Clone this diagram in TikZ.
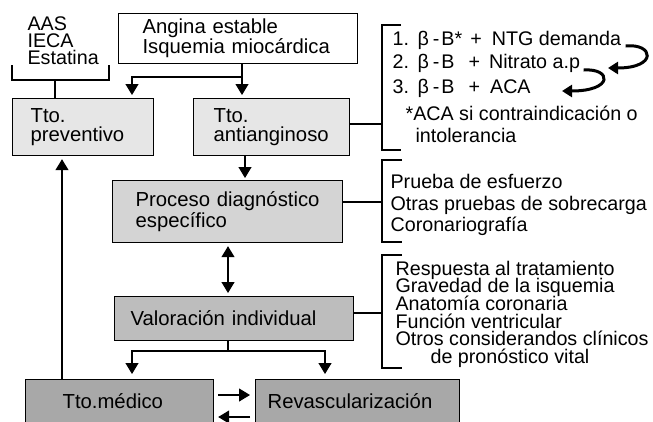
\documentclass[tikz,border=0pt]{standalone}
\usepackage{fontspec}
\setmainfont{Liberation Sans}
\usetikzlibrary{arrows.meta,calc}
\definecolor{gA}{HTML}{E6E6E6}
\definecolor{gB}{HTML}{D4D4D4}
\definecolor{gC}{HTML}{BDBDBD}
\definecolor{gD}{HTML}{A8A8A8}
\begin{document}
\begin{tikzpicture}[x=1pt,y=-1pt,line width=1.2pt,
  every node/.style={inner sep=0pt},
  box/.style={draw,anchor=north west,align=left,font=\fontsize{20.3}{19}\selectfont},
  txt/.style={anchor=base west,font=\fontsize{19.7}{20}\selectfont,text height=14pt,text depth=3pt},
  arr/.style={-{Triangle[width=13pt,length=11pt]}},
  darr/.style={{Triangle[width=13pt,length=11pt]}-{Triangle[width=13pt,length=11pt]}},
  carr/.style={line width=3pt,-{Triangle[width=12pt,length=10pt]}}]
\useasboundingbox (0,0) rectangle (653,421);

% boxes
\node[box,fill=white,minimum width=239pt,minimum height=50pt,text width=191pt,inner xsep=24pt] (ang) at (118,13) {Angina estable\\Isquemia miocárdica};
\node[box,fill=gA,minimum width=141pt,minimum height=57pt,text width=105pt,inner xsep=18pt] (prev) at (12,98) {Tto.\\preventivo};
\node[box,fill=gA,minimum width=156pt,minimum height=57pt,text width=116pt,inner xsep=20pt] (anti) at (193,98) {Tto.\\antianginoso};
\node[box,fill=gB,minimum width=230pt,minimum height=62pt,text width=184pt,inner xsep=23pt] (proc) at (112,180) {Proceso diagnóstico\\específico};
\node[box,fill=gC,minimum width=239pt,minimum height=44pt,text width=207pt,inner xsep=16pt] (val) at (114,296) {Valoración individual};
\node[box,fill=gD,minimum width=188pt,minimum height=44pt,text width=114pt,inner xsep=37pt] (med) at (25,379) {Tto.médico};
\node[box,fill=gD,minimum width=204pt,minimum height=44pt,text width=180pt,inner xsep=12pt] (rev) at (255,379) {Revascularización};

% AAS bracket
\begin{scope}[every node/.append style={font=\fontsize{20}{20}\selectfont,text height=13pt,text depth=2pt}]
\node[txt] (aas) at (27,30) {AAS};
\node[txt] (ieca) at (27,47) {IECA};
\node[txt] (esta) at (27,64) {Estatina};
\end{scope}
\coordinate (ba) at (12,65);
\coordinate (bb) at (109,65);
\coordinate (bm) at (55,80);
\draw (ba) -- (ba |- bm) -- (bb |- bm) -- (bb);
\draw (bm) -- (prev.north -| bm);

% top arrows
\coordinate (s1) at (242,77);
\coordinate (s2) at (132,77);
\draw[arr,shorten >=3pt] (ang.south -| s1) -- (anti.north -| s1);
\draw[arr,shorten >=3pt] (s1) -- (s2) -- (prev.north -| s2);
\coordinate (s3) at (245,0);
\draw[arr,shorten >=2pt] (anti.south -| s3) -- (proc.north -| s3);
\coordinate (s4) at (228,0);
\draw[darr,shorten >=3pt,shorten <=3pt] (proc.south -| s4) -- (val.north -| s4);
\coordinate (s5) at (228,351);
\coordinate (s6) at (132,351);
\coordinate (s7) at (325,351);
\draw (val.south -| s5) -- (s5);
\draw[arr,shorten >=5pt] (s5) -- (s6) -- (med.north -| s6);
\draw[arr,shorten >=5pt] (s5) -- (s7) -- (rev.north -| s7);
\coordinate (s8) at (62,0);
\draw[arr,shorten >=3pt] (med.north -| s8) -- (prev.south -| s8);
\coordinate (h1) at (0,395);
\coordinate (h2) at (0,417);
\draw[arr,shorten >=5pt,shorten <=4pt] (med.east |- h1) -- (rev.west |- h1);
\draw[arr,shorten >=4pt,shorten <=5pt] (rev.west |- h2) -- (med.east |- h2);

% right bracket 1
\coordinate (j1) at (382,124);
\coordinate (j1t) at (382,25);
\coordinate (j1b) at (382,150);
\draw (anti.east |- j1) -- (j1);
\draw (401,25) -- (j1t) -- (j1b) -- (401,150);
\node[txt] (l1) at (392,45) {\makebox[25pt][l]{1.}β\hspace{4pt}-\hspace{2pt}B*\hspace{8pt}+\hspace{10pt}NTG demanda};
\node[txt] (l2) at (392,68) {\makebox[25pt][l]{2.}β\hspace{4pt}-\hspace{2pt}B\hspace{14pt}+\hspace{9pt}Nitrato a.p};
\node[txt] (l3) at (392,93) {\makebox[25pt][l]{3.}β\hspace{4pt}-\hspace{2pt}B\hspace{14pt}+\hspace{10pt}ACA};
\node[txt] (l4) at (405,120) {*ACA si contraindicación o};
\node[txt] (l5) at (415,142) {intolerancia};
\coordinate (c1s) at ($(l1.base east)+(4,1)$);
\coordinate (c1e) at (608,68);
\coordinate (c2s) at ($(l2.base east)+(3,2)$);
\coordinate (c2e) at (562,91);
\draw[carr] (c1s) .. controls +(28,-3) and +(50,0) .. (c1e);
\draw[carr] (c2s) .. controls +(28,-2) and +(52,0) .. (c2e);

% right bracket 2
\coordinate (j2) at (382,202);
\coordinate (j2t) at (382,160);
\coordinate (j2b) at (382,242);
\draw (proc.east |- j2) -- (j2);
\draw (402,160) -- (j2t) -- (j2b) -- (402,242);
\node[txt] (p1) at (390,188) {Prueba de esfuerzo};
\node[txt] (p2) at (390,210) {Otras pruebas de sobrecarga};
\node[txt] (p3) at (390,231) {Coronariografía};

% right bracket 3
\coordinate (j3) at (382,313);
\coordinate (j3t) at (382,255);
\coordinate (j3b) at (382,368);
\draw (val.east |- j3) -- (j3);
\draw (402,255) -- (j3t) -- (j3b) -- (402,368);
\begin{scope}[every node/.append style={text height=13.5pt,text depth=3pt}]
\node[txt] (r1) at (395,275) {Respuesta al tratamiento};
\node[txt] (r2) at (395,292) {Gravedad de la isquemia};
\node[txt] (r3) at (395,310) {Anatomía coronaria};
\node[txt] (r4) at (395,328) {Función ventricular};
\node[txt] (r5) at (395,345) {Otros considerandos clínicos};
\node[txt] (r6) at (430,363) {de pronóstico vital};
\end{scope}
\end{tikzpicture}
\end{document}
